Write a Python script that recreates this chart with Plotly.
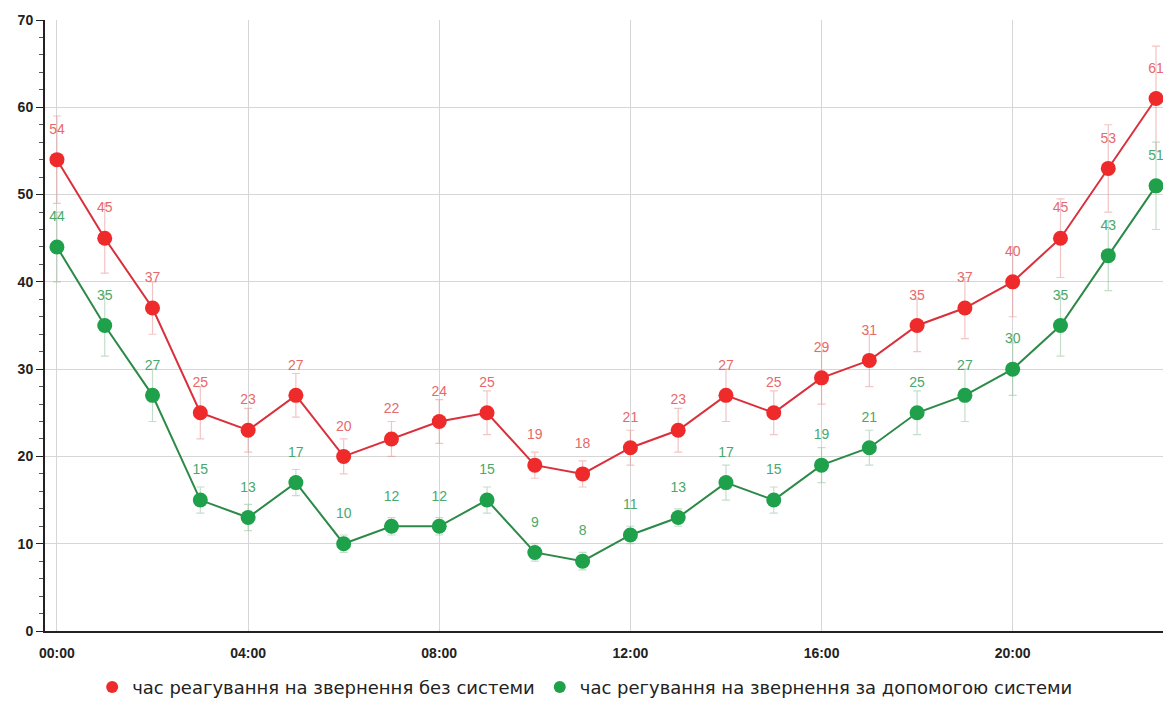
import plotly.graph_objects as go

hours = list(range(24))
tick_vals = [0, 4, 8, 12, 16, 20]
tick_text = ["00:00", "04:00", "08:00", "12:00", "16:00", "20:00"]

name_without = "час реагування на звернення без системи"
name_with = "час регування на звернення за допомогою системи"

without_system = [54, 45, 37, 25, 23, 27, 20, 22, 24, 25, 19, 18, 21, 23, 27, 25, 29, 31, 35, 37, 40, 45, 53, 61]
without_err = [5, 4, 3, 3, 2.5, 2.5, 2, 2, 2.5, 2.5, 1.5, 1.5, 2, 2.5, 3, 2.5, 3, 3, 3, 3.5, 4, 4.5, 5, 6]
with_system = [44, 35, 27, 15, 13, 17, 10, 12, 12, 15, 9, 8, 11, 13, 17, 15, 19, 21, 25, 27, 30, 35, 43, 51]
with_err = [4, 3.5, 3, 1.5, 1.5, 1.5, 1, 1, 1, 1.5, 1, 1, 1, 1, 2, 1.5, 2, 2, 2.5, 3, 3, 3.5, 4, 5]

RED_M, RED_L, RED_T = "#ee2a2a", "#d9303c", "#e66a6a"
GRN_M, GRN_L, GRN_T = "#1fa04a", "#2c8a48", "#4aa86a"

fig = go.Figure()

for ys, errs, mc, lc, tc, ec in [
    (without_system, without_err, RED_M, RED_L, RED_T, "rgba(230,140,140,0.5)"),
    (with_system, with_err, GRN_M, GRN_L, GRN_T, "rgba(140,190,150,0.5)"),
]:
    fig.add_trace(go.Scatter(
        x=hours, y=ys, mode="lines+markers", showlegend=False, cliponaxis=False,
        line=dict(color=lc, width=2),
        marker=dict(color=mc, size=15),
        error_y=dict(type="data", array=errs, color=ec, thickness=1.2, width=4),
    ))
    # value labels: transparent larger marker pushes the text further above the point
    fig.add_trace(go.Scatter(
        x=hours, y=ys, mode="markers+text", showlegend=False, cliponaxis=False,
        text=[str(v) for v in ys], textposition="top center",
        textfont=dict(color=tc, size=14, family="Liberation Sans, Arial"),
        marker=dict(size=34, color="rgba(0,0,0,0)"),
        hoverinfo="skip",
    ))

# legend entries (circle markers only)
fig.add_trace(go.Scatter(x=[None], y=[None], mode="markers", name=name_without,
                         marker=dict(color=RED_M, size=13)))
fig.add_trace(go.Scatter(x=[None], y=[None], mode="markers", name=name_with,
                         marker=dict(color=GRN_M, size=13)))

fig.update_layout(
    width=1163, height=701,
    margin=dict(l=37, r=3, t=12, b=74),
    plot_bgcolor="white", paper_bgcolor="white",
    font=dict(family="Liberation Sans, Arial", color="#222"),
    legend=dict(orientation="h", x=0.481, xanchor="center", y=-0.092, yanchor="middle",
                font=dict(size=18, color="#222", family="DejaVu Sans"), itemsizing="constant"),
    xaxis=dict(range=[-0.25, 23.25], tickvals=tick_vals, ticktext=tick_text,
               showgrid=True, gridcolor="#d6d6d6", gridwidth=1, automargin=False,
               showline=True, linecolor="#222", linewidth=2, zeroline=False,
               ticks="", ticklabelstandoff=8,
               tickfont=dict(size=14, color="#222", weight="bold"),
               fixedrange=True),
    yaxis=dict(range=[0, 70], dtick=10, showgrid=True, gridcolor="#d6d6d6", gridwidth=1,
               showline=True, linecolor="#222", linewidth=2, zeroline=False, automargin=False,
               ticks="outside", ticklen=7, tickcolor="#222",
               minor=dict(dtick=2, ticks="outside", ticklen=4, tickcolor="#555", showgrid=False),
               tickfont=dict(size=14, color="#222", weight="bold")),
)

fig.write_html("out.html")
